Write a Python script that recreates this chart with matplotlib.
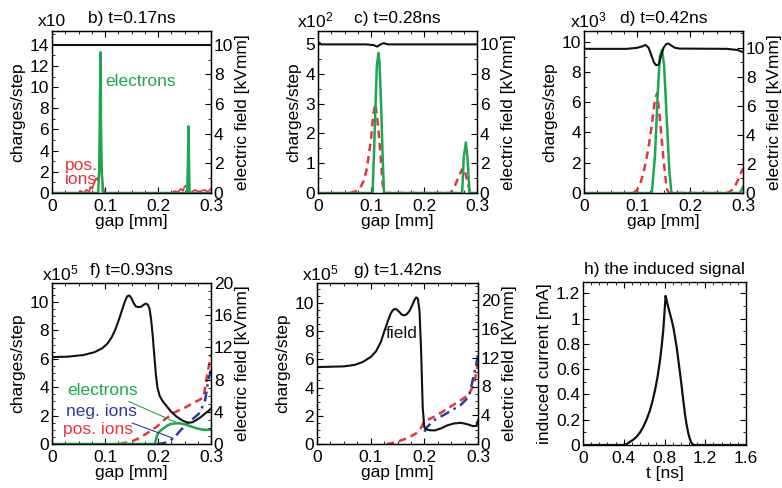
import matplotlib
matplotlib.use("Agg")
import matplotlib.pyplot as plt
from matplotlib.ticker import MultipleLocator, FuncFormatter

plt.rcParams['font.family'] = ['Liberation Sans', 'DejaVu Sans']
plt.rcParams['mathtext.fontset'] = 'custom'
plt.rcParams['mathtext.rm'] = 'Liberation Sans'
plt.rcParams['mathtext.it'] = 'Liberation Sans'

GREEN = '#1fa64f'
RED = '#e8333c'
BLUE = '#2f3a9c'
BLACK = '#111111'

# ---------------- data ----------------
# b) t=0.17ns  (charges x10, field kV/mm)
b_el_x = [0.0, 0.087, 0.089, 0.0905, 0.0915, 0.0925, 0.094, 0.096, 0.255, 0.2565, 0.2575, 0.2585, 0.2595, 0.3]
b_el_y = [0, 0, 2.0, 8.7, 13.3, 6.0, 2.0, 0, 0, 3.0, 6.3, 3.0, 0, 0]
b_pi_x = [0.050, 0.055, 0.060, 0.065, 0.070, 0.073, 0.076, 0.080, 0.083, 0.086, 0.089, 0.091, 0.093, 0.095, 0.097, 0.100,
          0.225, 0.232, 0.238, 0.243, 0.247, 0.250, 0.253, 0.256, 0.259, 0.264, 0.270, 0.276, 0.282, 0.288, 0.294, 0.300]
b_pi_y = [0, 0.2, 0, 0.3, 0.1, 0.6, 0.4, 1.0, 1.4, 1.2, 1.9, 2.3, 2.1, 1.2, 0.4, 0,
          0, 0.2, 0.1, 0.4, 0.2, 0.6, 0.7, 0.3, 0, 0.1, 0.3, 0.1, 0.2, 0.3, 0.1, 0.4]
b_f_x = [0.0, 0.3]
b_f_y = [10.0, 10.0]

# c) t=0.28ns  (charges x10^2)
c_el_x = [0.0, 0.103, 0.106, 0.109, 0.111, 0.114, 0.116, 0.119, 0.122, 0.1245, 0.272, 0.275, 0.279, 0.282, 0.286, 0.3]
c_el_y = [0, 0, 1.5, 3.2, 4.25, 4.7, 4.4, 3.0, 1.2, 0, 0, 1.2, 1.7, 1.2, 0, 0]
c_pi_x = [0.06, 0.07, 0.079, 0.086, 0.092, 0.100, 0.104, 0.108, 0.112, 0.117, 0.122, 0.125,
          0.250, 0.256, 0.262, 0.268, 0.272, 0.275, 0.279, 0.283, 0.287]
c_pi_y = [0, 0.05, 0.15, 0.4, 0.8, 1.8, 2.6, 3.0, 2.5, 1.5, 0.3, 0,
          0, 0.15, 0.4, 0.65, 0.8, 0.85, 0.6, 0.3, 0]
c_f_x = [0.0, 0.003, 0.006, 0.09, 0.105, 0.112, 0.118, 0.124, 0.132, 0.3]
c_f_y = [10.15, 10.1, 10.0, 10.0, 9.95, 9.85, 10.0, 10.08, 10.0, 10.0]

# d) t=0.42ns  (charges x10^3)
d_el_x = [0.0, 0.128, 0.134, 0.139, 0.143, 0.147, 0.151, 0.156, 0.161, 0.165, 0.294, 0.3]
d_el_y = [0, 0, 2.5, 6.5, 9.0, 9.45, 8.5, 5.0, 1.5, 0, 0, 0.4]
d_pi_x = [0.093, 0.100, 0.106, 0.112, 0.118, 0.123, 0.128, 0.134, 0.138, 0.143, 0.150, 0.156, 0.160,
          0.269, 0.276, 0.282, 0.287, 0.291, 0.295, 0.298, 0.300]
d_pi_y = [0, 0.2, 0.6, 1.3, 2.3, 3.3, 4.5, 6.2, 6.6, 5.0, 2.2, 0.3, 0,
          0, 0.1, 0.3, 0.6, 0.9, 1.2, 1.5, 1.6]
d_f_x = [0.0, 0.08, 0.1, 0.110, 0.116, 0.122, 0.127, 0.132, 0.136, 0.141, 0.145, 0.150, 0.155, 0.159, 0.165, 0.172, 0.18, 0.27, 0.29, 0.3]
d_f_y = [9.93, 9.93, 10.0, 10.1, 10.2, 10.0, 9.5, 9.0, 8.8, 8.85, 9.4, 10.0, 10.25, 10.3, 10.15, 10.0, 9.95, 9.93, 9.85, 9.7]

# f) t=0.93ns  (charges x10^5, field up to 20 kV/mm)
f_el_x = [0.0, 0.194, 0.197, 0.200, 0.205, 0.210, 0.217, 0.223, 0.232, 0.241, 0.254, 0.265, 0.273, 0.286, 0.300]
f_el_y = [0, 0, 0.45, 0.77, 0.95, 1.1, 1.28, 1.4, 1.45, 1.46, 1.35, 1.2, 1.1, 1.0, 1.0]
f_pi_x = [0.128, 0.140, 0.152, 0.163, 0.179, 0.197, 0.212, 0.229, 0.248, 0.267, 0.280, 0.286, 0.292, 0.300]
f_pi_y = [0, 0.1, 0.2, 0.4, 0.75, 1.2, 1.7, 2.2, 2.5, 2.9, 3.15, 3.3, 4.7, 6.3]
f_ni_x = [0.197, 0.210, 0.222, 0.232, 0.241, 0.250, 0.260, 0.270, 0.279, 0.289, 0.295, 0.300]
f_ni_y = [0, 0.05, 0.2, 0.5, 0.9, 1.25, 1.6, 1.9, 2.2, 3.1, 4.5, 5.2]
f_f_x = [0.0, 0.03, 0.059, 0.08, 0.095, 0.105, 0.113, 0.120, 0.127, 0.133, 0.138, 0.142, 0.146, 0.150, 0.154,
         0.158, 0.163, 0.168, 0.173, 0.177, 0.181, 0.184, 0.187, 0.190, 0.193, 0.196, 0.199,
         0.203, 0.208, 0.215, 0.225, 0.235, 0.245, 0.252, 0.258, 0.265, 0.273, 0.281, 0.289, 0.295, 0.300]
f_f_y = [10.8, 10.85, 11.05, 11.4, 11.9, 12.5, 13.3, 14.3, 15.6, 16.8, 17.8, 18.35, 18.45, 18.1, 17.5,
         17.1, 17.0, 17.05, 17.3, 17.45, 17.3, 16.8, 15.5, 13.5, 11.0, 8.6, 7.0,
         6.0, 5.4, 4.8, 4.0, 3.4, 2.95, 2.75, 2.65, 2.7, 3.0, 3.35, 3.8, 4.1, 4.4]

# g) t=1.42ns  (charges x10^5, field up to 22 kV/mm)
g_pi_x = [0.130, 0.145, 0.162, 0.175, 0.185, 0.193, 0.200, 0.219, 0.243, 0.268, 0.283, 0.293, 0.300]
g_pi_y = [0, 0.1, 0.33, 0.55, 0.76, 1.1, 1.6, 1.94, 2.5, 3.1, 3.5, 4.3, 5.7]
g_ni_x = [0.200, 0.205, 0.219, 0.243, 0.268, 0.283, 0.293, 0.300]
g_ni_y = [0.87, 1.2, 1.7, 2.2, 2.77, 3.35, 5.0, 6.3]
g_f_x = [0.0, 0.05, 0.07, 0.085, 0.10, 0.110, 0.119, 0.126, 0.132, 0.137, 0.141, 0.145, 0.149, 0.153, 0.158, 0.163,
         0.168, 0.173, 0.178, 0.182, 0.185, 0.188, 0.191, 0.194, 0.197, 0.200,
         0.205, 0.212, 0.220, 0.232, 0.243, 0.255, 0.268, 0.280, 0.290, 0.297, 0.300]
g_f_y = [10.7, 10.8, 11.0, 11.4, 12.1, 12.9, 14.2, 15.8, 17.1, 18.1, 18.6, 18.8, 18.7, 18.4, 18.0, 17.9,
         18.1, 18.6, 19.4, 20.1, 20.4, 20.2, 18.5, 13.0, 5.0, 2.3,
         2.0, 1.9, 1.9, 2.2, 2.6, 2.85, 2.95, 2.75, 2.5, 2.5, 3.3]

# h) the induced signal
h_t = [0.0, 0.396, 0.430, 0.462, 0.495, 0.527, 0.560, 0.593, 0.625, 0.658, 0.683, 0.707, 0.732, 0.756, 0.772,
       0.788, 0.800, 0.811, 0.822, 0.837, 0.853, 0.870, 0.887, 0.903, 0.920, 0.936, 0.953, 0.969,
       0.985, 1.000, 1.017, 1.034, 1.050, 1.067, 1.085, 1.100, 1.6]
h_i = [0, 0, 0.008, 0.026, 0.043, 0.066, 0.100, 0.145, 0.203, 0.276, 0.350, 0.434, 0.540, 0.67, 0.78,
       0.91, 1.05, 1.18, 1.14, 1.09, 1.04, 0.99, 0.93, 0.855, 0.77, 0.67, 0.565, 0.46,
       0.35, 0.25, 0.16, 0.092, 0.045, 0.013, 0.003, 0, 0]

# ---------------- figure ----------------
W, H = 782, 488
fig = plt.figure(figsize=(W / 100, H / 100), dpi=100)


def add(l, r, t, b):
    return fig.add_axes([l / W, 1 - b / H, (r - l) / W, (b - t) / H])


fmt = FuncFormatter(lambda v, p: f"{v:g}")
TS = 12.5
LS = 12.5


def style(ax, ylim, ymaj, ymin, xlim=(0, 0.3), xmaj=0.1, xmin=0.025):
    ax.set_xlim(*xlim)
    ax.set_ylim(*ylim)
    ax.xaxis.set_major_locator(MultipleLocator(xmaj))
    ax.xaxis.set_minor_locator(MultipleLocator(xmin))
    ax.yaxis.set_major_locator(MultipleLocator(ymaj))
    ax.yaxis.set_minor_locator(MultipleLocator(ymin))
    ax.xaxis.set_major_formatter(fmt)
    ax.yaxis.set_major_formatter(fmt)
    ax.tick_params(which='both', direction='in', top=True, labelsize=TS, pad=2)
    ax.tick_params(axis='x', which='both', pad=4.5)
    ax.tick_params(which='major', length=4, width=0.8)
    ax.tick_params(which='minor', length=2, width=0.6)
    for s in ax.spines.values():
        s.set_linewidth(1.0)


def twin(ax, ylim, ymaj, ymin):
    tw = ax.twinx()
    ax.tick_params(right=False, which='both')
    tw.set_ylim(*ylim)
    tw.yaxis.set_major_locator(MultipleLocator(ymaj))
    tw.yaxis.set_minor_locator(MultipleLocator(ymin))
    tw.yaxis.set_major_formatter(fmt)
    tw.tick_params(which='both', direction='in', labelsize=TS, pad=2)
    tw.tick_params(which='major', length=4, width=0.8)
    tw.tick_params(which='minor', length=2, width=0.6)
    tw.set_ylabel('electric field [kVmm]', fontsize=LS, labelpad=1)
    return tw


def labels(ax, title, mult, mx, my):
    ax.set_title(title, fontsize=LS, pad=6)
    ax.set_xlabel('gap [mm]', fontsize=LS, labelpad=0)
    ax.set_ylabel('charges/step', fontsize=LS, labelpad=3)
    ax.text(mx, my, mult, transform=ax.transAxes, fontsize=LS, ha='left', va='center')


# b
ax = add(52, 211, 31, 193)
style(ax, (0, 15.3), 2, 1)
ax.plot(b_pi_x, b_pi_y, color=RED, lw=1.2)
ax.plot(b_el_x, b_el_y, color=GREEN, lw=1.8)
tw = twin(ax, (0, 10.93), 2, 1)
tw.plot(b_f_x, b_f_y, color=BLACK, lw=1.5)
labels(ax, 'b) t=0.17ns', 'x10', -0.09, 1.056)
ax.text(0.1, 10.5, 'electrons', color=GREEN, fontsize=LS, ha='left', va='center')
ax.text(0.024, 1.94, 'pos.\nions', color=RED, fontsize=LS, ha='left', va='center', linespacing=0.95)

# c
ax = add(318, 477, 31, 193)
style(ax, (0, 5.44), 1, 0.5)
ax.plot(c_pi_x, c_pi_y, color=RED, lw=1.8, ls=(0, (3, 2)))
ax.plot(c_el_x, c_el_y, color=GREEN, lw=1.8)
tw = twin(ax, (0, 10.9), 2, 1)
tw.plot(c_f_x, c_f_y, color=BLACK, lw=1.5)
labels(ax, 'c) t=0.28ns', r'x10$^{2}$', -0.13, 1.068)

# d
ax = add(584, 743, 31, 193)
style(ax, (0, 10.7), 2, 1)
ax.plot(d_pi_x, d_pi_y, color=RED, lw=1.8, ls=(0, (3, 2)))
ax.plot(d_el_x, d_el_y, color=GREEN, lw=1.8)
tw = twin(ax, (0, 11.16), 2, 1)
tw.plot(d_f_x, d_f_y, color=BLACK, lw=1.5)
labels(ax, 'd) t=0.42ns', r'x10$^{3}$', -0.09, 1.068)

# f
ax = add(52, 211, 283, 444)
style(ax, (0, 11.34), 2, 0.5)
ax.plot(f_pi_x, f_pi_y, color=RED, lw=1.8, ls=(0, (3, 2)))
ax.plot(f_ni_x, f_ni_y, color=BLUE, lw=1.8, ls=(0, (4, 2, 1, 2)))
ax.plot(f_el_x, f_el_y, color=GREEN, lw=1.8)
tw = twin(ax, (0, 20), 4, 1)
tw.plot(f_f_x, f_f_y, color=BLACK, lw=1.5)
labels(ax, 'f) t=0.93ns', r'x10$^{5}$', -0.065, 1.062)
ax.annotate('electrons', xy=(0.238, 1.46), xytext=(0.096, 3.8), color=GREEN, fontsize=LS,
            ha='center', va='center',
            arrowprops=dict(arrowstyle='-', color=GREEN, lw=0.8, shrinkA=2, shrinkB=0))
ax.annotate('neg. ions', xy=(0.229, 0.4), xytext=(0.094, 2.27), color=BLUE, fontsize=LS,
            ha='center', va='center',
            arrowprops=dict(arrowstyle='-', color=BLUE, lw=0.8, shrinkA=2, shrinkB=0))
ax.annotate('pos. ions', xy=(0.163, 0.28), xytext=(0.086, 0.99), color=RED, fontsize=LS,
            ha='center', va='center',
            arrowprops=dict(arrowstyle='-', color=RED, lw=0.8, shrinkA=2, shrinkB=0))

# g
ax = add(317, 478, 283, 444)
style(ax, (0, 11.4), 2, 0.5)
ax.plot(g_pi_x, g_pi_y, color=RED, lw=1.8, ls=(0, (3, 2)))
ax.plot(g_ni_x, g_ni_y, color=BLUE, lw=1.8, ls=(0, (4, 2, 1, 2)))
tw = twin(ax, (0, 22.4), 4, 1)
tw.plot(g_f_x, g_f_y, color=BLACK, lw=1.5)
labels(ax, 'g) t=1.42ns', r'x10$^{5}$', -0.093, 1.062)
ax.text(0.158, 7.85, 'field', color=BLACK, fontsize=LS, ha='center', va='center')

# h
ax = add(583, 746, 282, 445)
style(ax, (0, 1.29), 0.2, 0.1, xlim=(0, 1.6), xmaj=0.4, xmin=0.08)
ax.tick_params(which='both', right=True)
ax.plot(h_t, h_i, color=BLACK, lw=1.6)
ax.set_title('h) the induced signal', fontsize=LS, pad=6)
ax.set_xlabel('t [ns]', fontsize=LS, labelpad=0)
ax.set_ylabel('induced current [mA]', fontsize=LS, labelpad=3)

fig.savefig('out.png', dpi=100)
